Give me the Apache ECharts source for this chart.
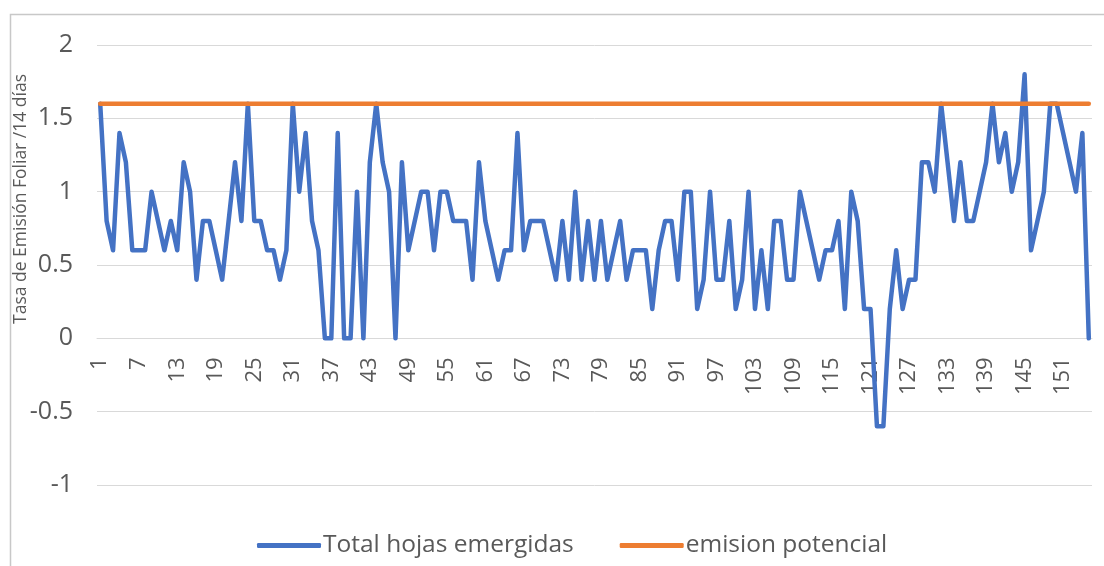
<!DOCTYPE html>
<html>
<head>
<meta charset="utf-8">
<script src="https://cdn.jsdelivr.net/npm/echarts@6/dist/echarts.min.js"></script>
<style>
  html, body { margin: 0; padding: 0; background: #ffffff; overflow: hidden; }
  #chart { width: 1104px; height: 566px; }
</style>
</head>
<body>
<div id="chart"></div>
<script>
// Leaf emergence rate per sampling (14-day periods)
const categories = Array.from({ length: 155 }, (_, i) => String(i + 1));

const totalHojas = [
  1.6, 0.8, 0.6, 1.4, 1.2, 0.6, 0.6, 0.6, 1.0, 0.8,
  0.6, 0.8, 0.6, 1.2, 1.0, 0.4, 0.8, 0.8, 0.6, 0.4,
  0.8, 1.2, 0.8, 1.6, 0.8, 0.8, 0.6, 0.6, 0.4, 0.6,
  1.6, 1.0, 1.4, 0.8, 0.6, 0, 0, 1.4, 0, 0,
  1.0, 0, 1.2, 1.6, 1.2, 1.0, 0, 1.2, 0.6, 0.8,
  1.0, 1.0, 0.6, 1.0, 1.0, 0.8, 0.8, 0.8, 0.4, 1.2,
  0.8, 0.6, 0.4, 0.6, 0.6, 1.4, 0.6, 0.8, 0.8, 0.8,
  0.6, 0.4, 0.8, 0.4, 1.0, 0.4, 0.8, 0.4, 0.8, 0.4,
  0.6, 0.8, 0.4, 0.6, 0.6, 0.6, 0.2, 0.6, 0.8, 0.8,
  0.4, 1.0, 1.0, 0.2, 0.4, 1.0, 0.4, 0.4, 0.8, 0.2,
  0.4, 1.0, 0.2, 0.6, 0.2, 0.8, 0.8, 0.4, 0.4, 1.0,
  0.8, 0.6, 0.4, 0.6, 0.6, 0.8, 0.2, 1.0, 0.8, 0.2,
  0.2, -0.6, -0.6, 0.2, 0.6, 0.2, 0.4, 0.4, 1.2, 1.2,
  1.0, 1.6, 1.2, 0.8, 1.2, 0.8, 0.8, 1.0, 1.2, 1.6,
  1.2, 1.4, 1.0, 1.2, 1.8, 0.6, 0.8, 1.0, 1.6, 1.6,
  1.4, 1.2, 1.0, 1.4, 0
];

// Potential emission rate, constant over all samplings
const emisionPotencialRate = 1.6;
const emisionPotencial = categories.map(() => emisionPotencialRate);

const yTicks = { min: -1, max: 2, interval: 0.5 };

const textColor = '#595959';
const gridColor = '#d9d9d9';
const fontFamily = '"Open Sans", "Noto Sans", sans-serif';

const W = 1104, H = 566;
const grid = { left: 97, right: 12, top: 45, bottom: 81 };
const plotHeight = H - grid.top - grid.bottom;
// place the category axis on the value 0 line
const zeroOffset = -plotHeight * (0 - yTicks.min) / (yTicks.max - yTicks.min);

const chart = echarts.init(document.getElementById('chart'), null, { renderer: 'canvas' });

chart.setOption({
  backgroundColor: '#ffffff',
  animation: false,
  grid: Object.assign({ containLabel: false }, grid),
  legend: {
    left: 252,
    top: 528,
    itemWidth: 64,
    itemHeight: 5,
    itemGap: 46,
    icon: 'roundRect',
    textStyle: { color: textColor, fontSize: 24.5, fontFamily: fontFamily, padding: [0, 0, 0, -3] },
    data: ['Total hojas emergidas', 'emision potencial']
  },
  xAxis: {
    type: 'category',
    data: categories,
    boundaryGap: true,
    offset: zeroOffset,
    axisLine: { onZero: false, lineStyle: { color: gridColor, width: 1 } },
    axisTick: { show: false },
    axisLabel: {
      interval: 5,
      rotate: 90,
      margin: 19,
      color: textColor,
      fontSize: 22,
      fontFamily: fontFamily
    },
    splitLine: { show: false }
  },
  yAxis: {
    type: 'value',
    min: yTicks.min,
    max: yTicks.max,
    interval: yTicks.interval,
    axisLine: { show: false },
    axisTick: { show: false },
    axisLabel: { color: textColor, fontSize: 25, fontFamily: fontFamily, margin: 24 },
    splitLine: { lineStyle: { color: gridColor, width: 1 } }
  },
  graphic: [
    {
      type: 'rect',
      left: 8,
      top: 12,
      shape: { width: 1200, height: 600 },
      style: { fill: 'none', stroke: '#c8c8c8', lineWidth: 1.5 },
      silent: true,
      z: -1
    },
    {
      type: 'text',
      x: 21,
      y: 199,
      rotation: Math.PI / 2,
      style: {
        text: 'Tasa de Emisión Foliar /14 días',
        fill: textColor,
        font: '17.5px ' + fontFamily,
        align: 'center',
        verticalAlign: 'middle'
      }
    }
  ],
  series: [
    {
      name: 'Total hojas emergidas',
      type: 'line',
      data: totalHojas,
      symbol: 'none',
      z: 2,
      itemStyle: { color: '#4472C4' },
      lineStyle: { color: '#4472C4', width: 4.5, cap: 'round', join: 'round' }
    },
    {
      name: 'emision potencial',
      type: 'line',
      data: emisionPotencial,
      symbol: 'none',
      z: 3,
      itemStyle: { color: '#ED7D31' },
      lineStyle: { color: '#ED7D31', width: 4.5, cap: 'round', join: 'round' }
    }
  ]
});
</script>
</body>
</html>
